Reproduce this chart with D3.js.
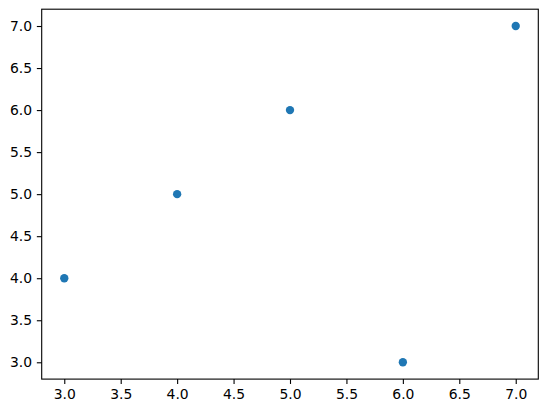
<!DOCTYPE html>
<html><head><meta charset="utf-8">
<script src="https://cdn.jsdelivr.net/npm/d3@7"></script>
<style>body{margin:0;background:#fff}svg{display:block}</style>
</head><body>
<svg id="c" width="547" height="413"></svg>
<script>
const xs = [3, 4, 5, 6, 7];
const ys = [4, 5, 6, 3, 7];
const xTicks = [3.0, 3.5, 4.0, 4.5, 5.0, 5.5, 6.0, 6.5, 7.0];
const yTicks = [3.0, 3.5, 4.0, 4.5, 5.0, 5.5, 6.0, 6.5, 7.0];

const L = 41.7, R = 538.3, T = 9.2, B = 379.1;
const svg = d3.select("#c");
const x = d3.scaleLinear().domain([2.8, 7.2]).range([L, R]);
const y = d3.scaleLinear().domain([2.8, 7.2]).range([B, T]);

const font = "DejaVu Sans, sans-serif";
const xa = svg.append("g").attr("transform", `translate(0,${B})`)
  .call(d3.axisBottom(x).tickValues(xTicks).tickFormat(d3.format(".1f")).tickSize(4.86).tickPadding(4.86));
const ya = svg.append("g").attr("transform", `translate(${L},0)`)
  .call(d3.axisLeft(y).tickValues(yTicks).tickFormat(d3.format(".1f")).tickSize(4.86).tickPadding(4.86));
[xa, ya].forEach(a => {
  a.select(".domain").remove();
  a.selectAll("line").attr("stroke", "#000").attr("stroke-width", 1.1);
  a.selectAll("text").attr("fill", "#000").style("font-family", font).style("font-size", "13.9px");
});

svg.append("rect").attr("x", L).attr("y", T).attr("width", R - L).attr("height", B - T)
  .attr("fill", "none").attr("stroke", "#000").attr("stroke-width", 1.1);

svg.append("g").selectAll("circle").data(xs.map((v, i) => [v, ys[i]])).join("circle")
  .attr("cx", d => x(d[0])).attr("cy", d => y(d[1])).attr("r", 4.17).attr("fill", "#1f77b4");
</script>
</body></html>
